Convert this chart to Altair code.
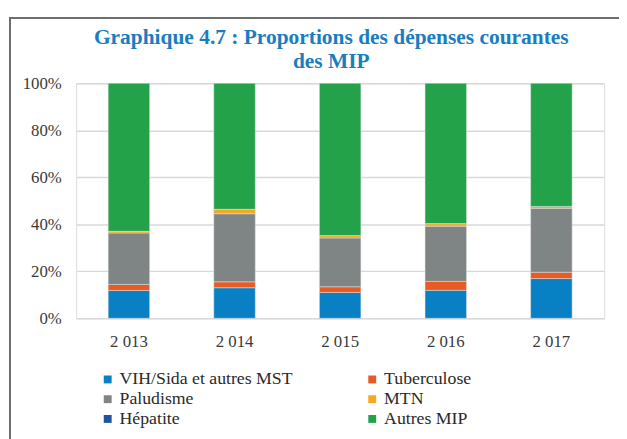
import altair as alt
import pandas as pd

years = ["2 013", "2 014", "2 015", "2 016", "2 017"]
series = ["VIH/Sida et autres MST", "Tuberculose", "Paludisme", "MTN", "Hépatite", "Autres MIP"]
colors = ["#0a80c4", "#e85b24", "#7f8485", "#f6a821", "#1f52a0", "#23a24a"]
# legend is filled column by column: this order shows it row by row
legend_order = ["VIH/Sida et autres MST", "Paludisme", "Hépatite", "Tuberculose", "MTN", "Autres MIP"]

vih = [11.8, 13.0, 11.0, 11.9, 16.9]
tuberculose = [2.6, 2.5, 2.4, 3.8, 2.7]
paludisme = [21.9, 29.0, 20.8, 23.5, 27.2]
mtn = [0.7, 1.9, 1.0, 1.1, 0.8]
hepatite = [0.0, 0.0, 0.0, 0.0, 0.0]
autres = [63.0, 53.6, 64.8, 59.7, 52.4]

values = [vih, tuberculose, paludisme, mtn, hepatite, autres]
rows = []
for si, (name, vals) in enumerate(zip(series, values)):
    for y, v in zip(years, vals):
        rows.append({"Année": y, "Catégorie": name, "Valeur": v, "ordre": si})
df = pd.DataFrame(rows)

color_of = dict(zip(series, colors))
FONT = "Liberation Serif"

bars = alt.Chart(df).mark_bar(size=42, stroke="#dfe3e3", strokeWidth=0.5).encode(
    x=alt.X("Année:N", sort=years, title=None,
            scale=alt.Scale(paddingInner=0.607, paddingOuter=0.3035),
            axis=alt.Axis(labelAngle=0, ticks=False, tickSize=0, domain=False, grid=False,
                          labelFont=FONT, labelFontSize=17, labelColor="#3a3a3a", labelPadding=16)),
    y=alt.Y("Valeur:Q", stack="normalize", title=None,
            scale=alt.Scale(domain=[0, 1]),
            axis=alt.Axis(format=".0%", values=[0, 0.2, 0.4, 0.6, 0.8, 1.0], ticks=False, tickSize=0,
                          domain=False, gridColor="#d9d9d9", gridWidth=1.5,
                          labelFont=FONT, labelFontSize=17, labelColor="#3a3a3a", labelPadding=15)),
    color=alt.Color("Catégorie:N",
                    scale=alt.Scale(domain=legend_order, range=[color_of[s] for s in legend_order]),
                    legend=alt.Legend(title=None, orient="none", legendX=23, legendY=291,
                                      columns=2, columnPadding=71, rowPadding=2, labelLimit=400,
                                      symbolType="square", symbolSize=64, symbolStrokeWidth=0,
                                      labelFont=FONT, labelFontSize=18, labelColor="#2a2a2a",
                                      labelOffset=3)),
    order=alt.Order("ordre:Q", sort="ascending"),
)

frame_top = alt.Chart(df).mark_rule(color="#6f6f6f", strokeWidth=1.5).encode(
    x=alt.value(-67), x2=alt.value(560), y=alt.value(-66.5)
)
frame_left = alt.Chart(df).mark_rule(color="#6f6f6f", strokeWidth=1.5).encode(
    x=alt.value(-67), y=alt.value(-66.5), y2=alt.value(360)
)

chart = alt.layer(bars, frame_top, frame_left).properties(
    width=535, height=238,
    autosize=alt.AutoSizeParams(type="none"),
    padding={"left": 69, "top": 73.5, "right": 15, "bottom": 119.5},
    title=alt.TitleParams(
        text=["Graphique 4.7 : Proportions des dépenses courantes", "des MIP"],
        font=FONT, fontSize=21.7, fontWeight="bold", color="#1a7dc0",
        anchor="middle", dx=-9, offset=0, dy=56, lineHeight=24,
    ),
).configure_view(stroke=None).configure(background="white")

chart.save("out.html", embed_options={"renderer": "svg", "actions": False})
